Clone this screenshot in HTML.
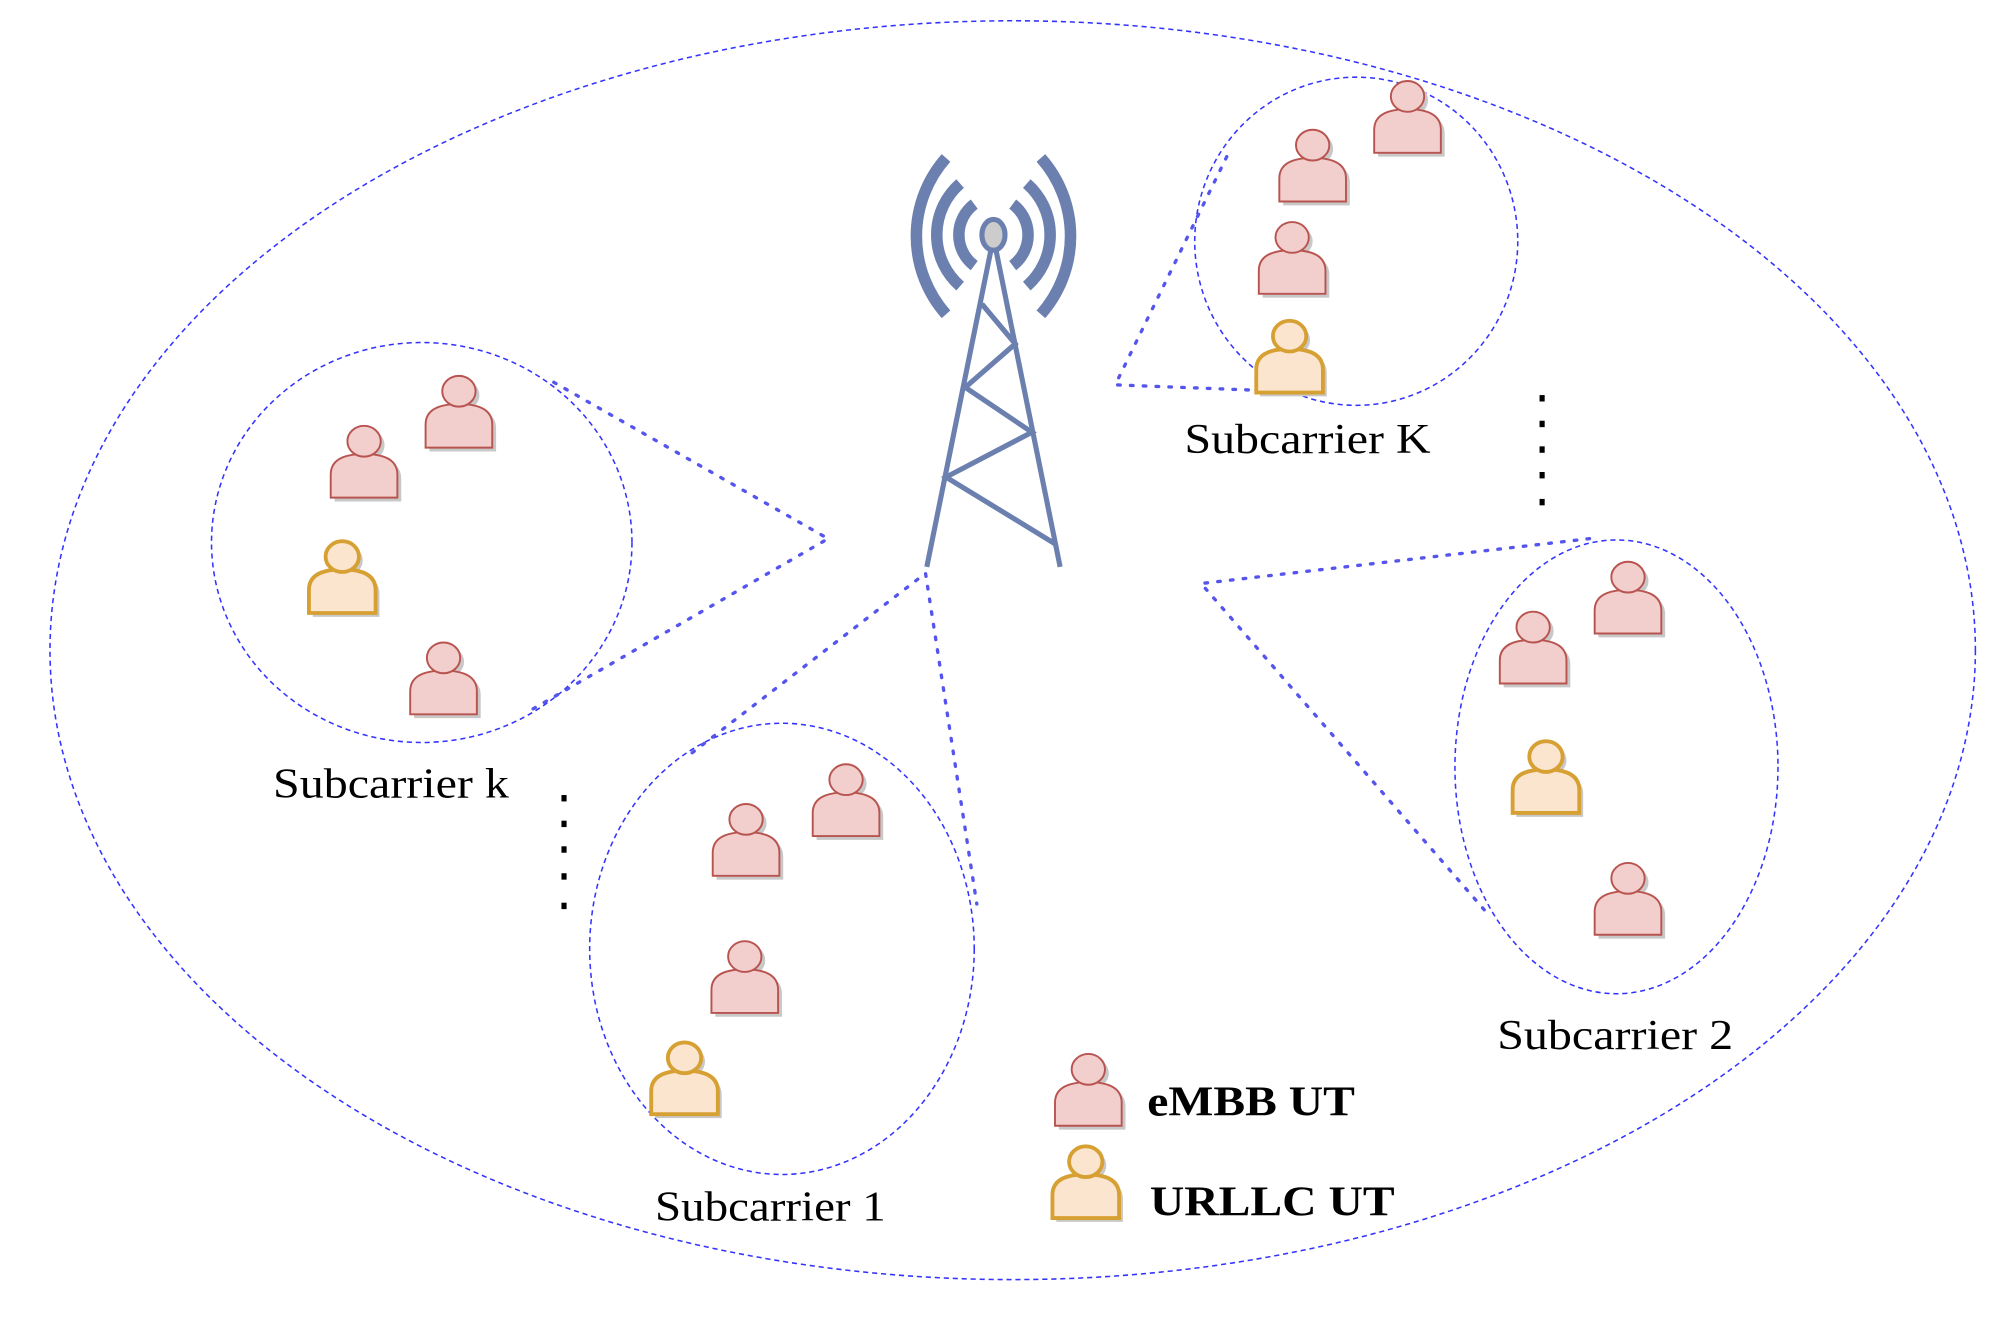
<!DOCTYPE html>
<html><head><style>html,body{margin:0;padding:0;background:#fff}svg{display:block}</style></head>
<body>
<svg width="2010" height="1326" viewBox="0 0 1568 1034" xmlns="http://www.w3.org/2000/svg">
<defs>
<g id="em">
<path d="M3,59 L3,41 Q3,25 29,25 Q55,25 55,41 L55,59 Z" fill="#c8c8c8"/>
<ellipse cx="29" cy="15" rx="13" ry="12" fill="#c8c8c8"/>
<path d="M0,56 L0,38 Q0,22 26,22 Q52,22 52,38 L52,56 Z" fill="#f2cecd" stroke="#b85450" stroke-width="1.5"/>
<ellipse cx="26" cy="12" rx="13" ry="12" fill="#f2cecd" stroke="#b85450" stroke-width="1.5"/>
</g>
<g id="ur">
<path d="M3,59 L3,41 Q3,25 29,25 Q55,25 55,41 L55,59 Z" fill="#c8c8c8"/>
<ellipse cx="29" cy="15" rx="13" ry="12" fill="#c8c8c8"/>
<path d="M0,56 L0,38 Q0,22 26,22 Q52,22 52,38 L52,56 Z" fill="#fbe5cf" stroke="#d6a033" stroke-width="3"/>
<ellipse cx="26" cy="12" rx="13" ry="12" fill="#fbe5cf" stroke="#d6a033" stroke-width="3"/>
</g>
</defs>
<g fill="none" stroke="#3333ff" stroke-width="1.2" stroke-dasharray="4,3">
<ellipse cx="790" cy="507" rx="751" ry="491"/>
<ellipse cx="1058" cy="188" rx="126" ry="128"/>
<ellipse cx="329" cy="423" rx="164" ry="156"/>
<ellipse cx="610" cy="740" rx="150" ry="176"/>
<ellipse cx="1261" cy="598" rx="126" ry="177"/>
</g>
<g fill="none" stroke="#5555ee" stroke-width="2.6" stroke-dasharray="2,8" stroke-linecap="round">
<polyline points="957,122 870,300 1000,305"/>
<polyline points="432,298 646,420 412,555"/>
<polyline points="540,587 722,447 762,705"/>
<polyline points="1240,420 937,455 1160,712"/>
</g>
<g stroke="#6c80b0" stroke-width="4" fill="none" stroke-linecap="butt">
<line x1="773" y1="195" x2="723" y2="442"/>
<line x1="777" y1="195" x2="827" y2="442"/>
<polyline points="766,237 792,268 753,302 805,337 738,372 823,424"/>
</g>
<g stroke="#6c80b0" stroke-width="9" fill="none">
<path d="M738,123 A92,92 0 0 0 738,245"/>
<path d="M812,123 A92,92 0 0 1 812,245"/>
<path d="M749,143 A53,53 0 0 0 749,223"/>
<path d="M801,143 A53,53 0 0 1 801,223"/>
<path d="M760,159 A30,30 0 0 0 760,207"/>
<path d="M790,159 A30,30 0 0 1 790,207"/>
</g>
<ellipse cx="775" cy="183" rx="9" ry="12" fill="#cccccc" stroke="#6c80b0" stroke-width="4"/>
<use href="#em" x="1072" y="63"/>
<use href="#em" x="998" y="101"/>
<use href="#em" x="982" y="173"/>
<use href="#ur" x="980" y="250"/>
<use href="#em" x="332" y="293"/>
<use href="#em" x="258" y="332"/>
<use href="#ur" x="241" y="422"/>
<use href="#em" x="320" y="501"/>
<use href="#em" x="634" y="596"/>
<use href="#em" x="556" y="627"/>
<use href="#em" x="555" y="734"/>
<use href="#ur" x="508" y="813"/>
<use href="#em" x="1244" y="438"/>
<use href="#em" x="1170" y="477"/>
<use href="#ur" x="1180" y="578"/>
<use href="#em" x="1244" y="673"/>
<use href="#em" x="823" y="822"/>
<use href="#ur" x="821" y="894"/>
<g font-family="Liberation Serif, serif" font-size="33" fill="#000">
<text x="924" y="353" textLength="192" lengthAdjust="spacingAndGlyphs">Subcarrier K</text>
<text x="213" y="622" textLength="184" lengthAdjust="spacingAndGlyphs">Subcarrier k</text>
<text x="511" y="952" textLength="180" lengthAdjust="spacingAndGlyphs">Subcarrier 1</text>
<text x="1168" y="818" textLength="184" lengthAdjust="spacingAndGlyphs">Subcarrier 2</text>
<text x="895" y="870" font-weight="bold" textLength="162" lengthAdjust="spacingAndGlyphs">eMBB UT</text>
<text x="897" y="948" font-weight="bold" textLength="191" lengthAdjust="spacingAndGlyphs">URLLC UT</text>
</g>
<g fill="#000">
<rect x="1201" y="308" width="4" height="5"/><rect x="1201" y="328" width="4" height="5"/><rect x="1201" y="348" width="4" height="5"/><rect x="1201" y="368" width="4" height="5"/><rect x="1201" y="389" width="4" height="5"/>
<rect x="438" y="620" width="4" height="5"/><rect x="438" y="640" width="4" height="5"/><rect x="438" y="660" width="4" height="5"/><rect x="438" y="681" width="4" height="5"/><rect x="438" y="704" width="4" height="5"/>
</g>
</svg>
</body></html>
